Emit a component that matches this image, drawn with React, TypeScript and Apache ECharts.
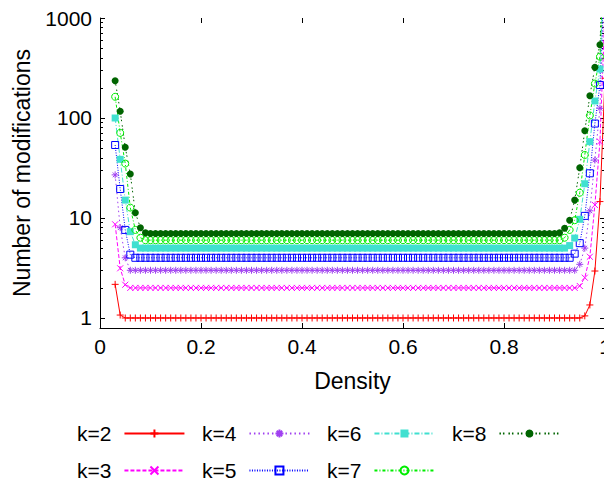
import React, { useEffect, useRef } from "react";
import * as echarts from "echarts";

// Density values (x)
const DENSITY = [
  0.03, 0.04, 0.05, 0.06, 0.07, 0.08, 0.09,
  0.10, 0.11, 0.12, 0.13, 0.14, 0.15, 0.16, 0.17, 0.18, 0.19,
  0.20, 0.21, 0.22, 0.23, 0.24, 0.25, 0.26, 0.27, 0.28, 0.29,
  0.30, 0.31, 0.32, 0.33, 0.34, 0.35, 0.36, 0.37, 0.38, 0.39,
  0.40, 0.41, 0.42, 0.43, 0.44, 0.45, 0.46, 0.47, 0.48, 0.49,
  0.50, 0.51, 0.52, 0.53, 0.54, 0.55, 0.56, 0.57, 0.58, 0.59,
  0.60, 0.61, 0.62, 0.63, 0.64, 0.65, 0.66, 0.67, 0.68, 0.69,
  0.70, 0.71, 0.72, 0.73, 0.74, 0.75, 0.76, 0.77, 0.78, 0.79,
  0.80, 0.81, 0.82, 0.83, 0.84, 0.85, 0.86, 0.87, 0.88, 0.89,
  0.90, 0.91, 0.92, 0.93, 0.94, 0.95, 0.96, 0.97, 0.98, 0.99,
  1.00,
];

// Number of modifications per series
const K2 = [
  2.17, 1.07,
  1, 1, 1, 1, 1, 1, 1, 1, 1, 1,
  1, 1, 1, 1, 1, 1, 1, 1, 1, 1,
  1, 1, 1, 1, 1, 1, 1, 1, 1, 1,
  1, 1, 1, 1, 1, 1, 1, 1, 1, 1,
  1, 1, 1, 1, 1, 1, 1, 1, 1, 1,
  1, 1, 1, 1, 1, 1, 1, 1, 1, 1,
  1, 1, 1, 1, 1, 1, 1, 1, 1, 1,
  1, 1, 1, 1, 1, 1, 1, 1, 1, 1,
  1, 1, 1, 1, 1, 1, 1, 1, 1, 1,
  1,
  1.05, 1.35, 2.95, 14.6, 250,
];

const K3 = [
  8.65, 3.14, 2.15,
  2, 2, 2, 2, 2, 2, 2, 2, 2, 2,
  2, 2, 2, 2, 2, 2, 2, 2, 2, 2,
  2, 2, 2, 2, 2, 2, 2, 2, 2, 2,
  2, 2, 2, 2, 2, 2, 2, 2, 2, 2,
  2, 2, 2, 2, 2, 2, 2, 2, 2, 2,
  2, 2, 2, 2, 2, 2, 2, 2, 2, 2,
  2, 2, 2, 2, 2, 2, 2, 2, 2, 2,
  2, 2, 2, 2, 2, 2, 2, 2, 2, 2,
  2, 2, 2, 2, 2, 2, 2, 2, 2,
  2.09, 2.53, 4.1, 13.5, 58, 1200,
];

const K4 = [
  27, 8, 4.0,
  3, 3, 3, 3, 3, 3, 3, 3, 3, 3,
  3, 3, 3, 3, 3, 3, 3, 3, 3, 3,
  3, 3, 3, 3, 3, 3, 3, 3, 3, 3,
  3, 3, 3, 3, 3, 3, 3, 3, 3, 3,
  3, 3, 3, 3, 3, 3, 3, 3, 3, 3,
  3, 3, 3, 3, 3, 3, 3, 3, 3, 3,
  3, 3, 3, 3, 3, 3, 3, 3, 3, 3,
  3, 3, 3, 3, 3, 3, 3, 3, 3, 3,
  3, 3, 3, 3, 3, 3, 3, 3, 3,
  3.44, 5, 11.8, 38, 125, 2500,
];

const K5 = [
  53.7, 19.5, 7.6, 4.3,
  4, 4, 4, 4, 4, 4, 4, 4, 4, 4,
  4, 4, 4, 4, 4, 4, 4, 4, 4, 4,
  4, 4, 4, 4, 4, 4, 4, 4, 4, 4,
  4, 4, 4, 4, 4, 4, 4, 4, 4, 4,
  4, 4, 4, 4, 4, 4, 4, 4, 4, 4,
  4, 4, 4, 4, 4, 4, 4, 4, 4, 4,
  4, 4, 4, 4, 4, 4, 4, 4, 4, 4,
  4, 4, 4, 4, 4, 4, 4, 4, 4, 4,
  4, 4, 4, 4, 4, 4, 4,
  4.4, 5.6, 10.5, 28, 88, 214, 4000,
];

const K6 = [
  100, 38.6, 15.1, 7.3, 5.4,
  5, 5, 5, 5, 5, 5, 5, 5, 5, 5,
  5, 5, 5, 5, 5, 5, 5, 5, 5, 5,
  5, 5, 5, 5, 5, 5, 5, 5, 5, 5,
  5, 5, 5, 5, 5, 5, 5, 5, 5, 5,
  5, 5, 5, 5, 5, 5, 5, 5, 5, 5,
  5, 5, 5, 5, 5, 5, 5, 5, 5, 5,
  5, 5, 5, 5, 5, 5, 5, 5, 5, 5,
  5, 5, 5, 5, 5, 5, 5, 5, 5, 5,
  5, 5, 5, 5, 5,
  5.3, 6.3, 9.7, 22, 58, 148, 309, 6000,
];

const K7 = [
  163, 71, 35, 12.7, 7.6, 6.35,
  6, 6, 6, 6, 6, 6, 6, 6, 6, 6,
  6, 6, 6, 6, 6, 6, 6, 6, 6, 6,
  6, 6, 6, 6, 6, 6, 6, 6, 6, 6,
  6, 6, 6, 6, 6, 6, 6, 6, 6, 6,
  6, 6, 6, 6, 6, 6, 6, 6, 6, 6,
  6, 6, 6, 6, 6, 6, 6, 6, 6, 6,
  6, 6, 6, 6, 6, 6, 6, 6, 6, 6,
  6, 6, 6, 6, 6, 6, 6, 6, 6, 6,
  6, 6, 6,
  6.35, 7.6, 9.5, 17.9, 42.7, 106, 221, 410, 8000,
];

const K8 = [
  236, 117, 51, 27.5, 11.3, 8, 7.1,
  7, 7, 7, 7, 7, 7, 7, 7, 7, 7,
  7, 7, 7, 7, 7, 7, 7, 7, 7, 7,
  7, 7, 7, 7, 7, 7, 7, 7, 7, 7,
  7, 7, 7, 7, 7, 7, 7, 7, 7, 7,
  7, 7, 7, 7, 7, 7, 7, 7, 7, 7,
  7, 7, 7, 7, 7, 7, 7, 7, 7, 7,
  7, 7, 7, 7, 7, 7, 7, 7, 7, 7,
  7, 7, 7, 7, 7, 7, 7, 7, 7, 7,
  7,
  7.1, 7.9, 9.5, 15.1, 31.8, 74.6, 167, 321, 540, 10000,
];

const SERIES_NAMES = ["k=2", "k=3", "k=4", "k=5", "k=6", "k=7", "k=8"];
const SERIES_VALUES = [K2, K3, K4, K5, K6, K7, K8];

const Y_MAJOR = [1, 10, 100, 1000];
const Y_MINOR = [2, 3, 4, 5, 6, 7, 8, 9, 20, 30, 40, 50, 60, 70, 80, 90, 200, 300, 400, 500, 600, 700, 800, 900];

const PLUS = "path://M0,5L10,5M5,0L5,10";
const CROSS = "path://M0,0L10,10M10,0L0,10";
const STAR = "path://M0,5L10,5M5,0L5,10M1.6,1.6L8.4,8.4M8.4,1.6L1.6,8.4";
const SQUARE = "path://M0,0L10,0L10,10L0,10Z";

const STYLES = [
  { color: "#ff0000", symbol: PLUS, open: true, size: 7, dash: "solid" as any },
  { color: "#ff00ff", symbol: CROSS, open: true, size: 6, dash: [4, 2] },
  { color: "#a040f0", symbol: STAR, open: true, size: 7, dash: [1.5, 3] },
  { color: "#0000ff", symbol: SQUARE, open: true, size: 7, dash: [1, 1.5] },
  { color: "#40e0d0", symbol: "rect", open: false, size: 7, dash: [5, 2, 1, 2] },
  { color: "#00ee00", symbol: "circle", open: true, size: 7, dash: [3, 2, 1, 2] },
  { color: "#006400", symbol: "circle", open: false, size: 7, dash: [1.5, 2, 1.5, 4] },
];

const FONT = "'Liberation Sans', Arial, Helvetica, sans-serif";

function buildOption() {
  const series = SERIES_NAMES.map((name, si) => {
    const st = STYLES[si];
    const vals = SERIES_VALUES[si];
    return {
      name,
      type: "line",
      xAxisIndex: 0,
      yAxisIndex: 0,
      data: DENSITY.map((d, i) => [d, vals[i]]),
      symbol: st.symbol,
      symbolSize: st.size,
      showSymbol: true,
      clip: true,
      lineStyle: { color: st.color, width: 1, type: st.dash },
      itemStyle: {
        color: st.open ? "transparent" : st.color,
        borderColor: st.color,
        borderWidth: st.open ? 1 : 0,
      },
      emphasis: { disabled: true },
    };
  });

  const legendBase = {
    orient: "vertical",
    top: 423,
    height: 100,
    padding: 0,
    align: "right",
    itemWidth: 60,
    itemHeight: 10,
    itemGap: 16,
    textStyle: { fontSize: 21, color: "#000", fontFamily: FONT, padding: [0, 8, 0, 0] },
    selectedMode: false,
  };

  const fmtY = (v: number) => String(Math.round(v));
  const fmtX = (v: number) => String(Math.round(v * 10) / 10);

  const yBase = {
    type: "log",
    logBase: 10,
    min: 0.7943,
    max: 1000,
    splitLine: { show: false },
    minorTick: { show: false },
  };

  return {
    animation: false,
    backgroundColor: "#fff",
    textStyle: { fontFamily: FONT, color: "#000" },
    grid: { left: 100, top: 18, right: -1, bottom: 156, containLabel: false, outerBoundsMode: "none" },
    xAxis: [
      {
        type: "value",
        min: 0,
        max: 1,
        interval: 0.2,
        position: "bottom",
        axisLine: { show: true, lineStyle: { color: "#000", width: 1 } },
        axisTick: { show: true, inside: true, length: 5, lineStyle: { color: "#000" } },
        axisLabel: { fontSize: 21, color: "#000", margin: 8, formatter: fmtX, fontFamily: FONT },
        splitLine: { show: false },
        name: "Density",
        nameLocation: "middle",
        nameGap: 41,
        nameTextStyle: { fontSize: 23, color: "#000", fontFamily: FONT },
      },
      {
        type: "value",
        min: 0,
        max: 1,
        interval: 0.2,
        position: "top",
        axisLine: { show: false },
        axisTick: { show: true, inside: true, length: 5, lineStyle: { color: "#000" } },
        axisLabel: { show: false },
        splitLine: { show: false },
      },
    ],
    yAxis: [
      {
        ...yBase,
        position: "left",
        axisLine: { show: true, lineStyle: { color: "#000", width: 1 } },
        axisTick: { show: true, inside: true, length: 5, customValues: Y_MAJOR, lineStyle: { color: "#000" } },
        axisLabel: { fontSize: 21, color: "#000", margin: 8, customValues: Y_MAJOR, formatter: fmtY, fontFamily: FONT },
        name: "Number of modifications",
        nameLocation: "middle",
        nameGap: 67,
        nameRotate: 90,
        nameTextStyle: { fontSize: 23, color: "#000", fontFamily: FONT },
      },
      {
        ...yBase,
        position: "left",
        axisLine: { show: false },
        axisTick: { show: true, inside: true, length: 3, customValues: Y_MINOR, lineStyle: { color: "#000" } },
        axisLabel: { show: false },
      },
      {
        ...yBase,
        position: "right",
        axisLine: { show: false },
        axisTick: { show: true, inside: true, length: 5, customValues: Y_MAJOR, lineStyle: { color: "#000" } },
        axisLabel: { show: false },
      },
      {
        ...yBase,
        position: "right",
        axisLine: { show: false },
        axisTick: { show: true, inside: true, length: 3, customValues: Y_MINOR, lineStyle: { color: "#000" } },
        axisLabel: { show: false },
      },
    ],
    legend: [
      { ...legendBase, left: 77, data: ["k=2", "k=3"] },
      { ...legendBase, left: 202, data: ["k=4", "k=5"] },
      { ...legendBase, left: 327, data: ["k=6", "k=7"] },
      { ...legendBase, left: 452, data: ["k=8"] },
    ],
    series,
  };
}

export default function App() {
  const ref = useRef<HTMLDivElement>(null);
  useEffect(() => {
    if (!ref.current) return;
    const chart = echarts.init(ref.current, null, { renderer: "svg" });
    chart.setOption(buildOption() as any);
    return () => chart.dispose();
  }, []);
  return (
    <div
      ref={ref}
      style={{ position: "fixed", left: 0, top: 0, width: 604, height: 484, background: "#fff" }}
    />
  );
}
